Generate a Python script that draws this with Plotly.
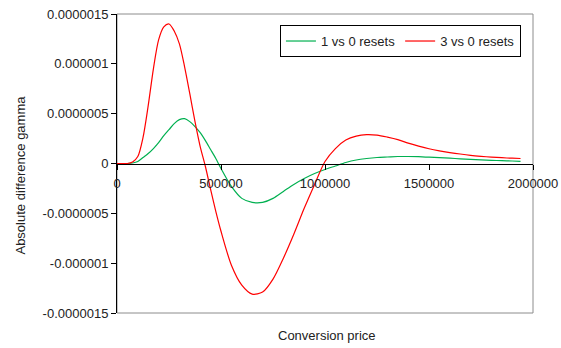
import plotly.graph_objects as go

# Conversion price (x) values
conversion_price = [0, 25000, 50000, 75000, 100000, 125000, 150000, 175000, 200000, 225000,
                    250000, 275000, 300000, 325000, 350000, 375000, 400000, 425000, 450000, 475000,
                    500000, 550000, 600000, 650000, 700000, 750000, 800000, 850000, 900000, 950000,
                    1000000, 1050000, 1100000, 1150000, 1200000, 1250000, 1300000, 1350000, 1400000,
                    1450000, 1500000, 1550000, 1600000, 1650000, 1700000, 1750000, 1800000, 1850000,
                    1900000, 1940000]

# Absolute difference gamma, in units of 1e-6
one_vs_zero = [0, 0, 0, 0.005, 0.02, 0.06, 0.10, 0.15, 0.21, 0.28,
               0.34, 0.40, 0.44, 0.45, 0.42, 0.37, 0.31, 0.23, 0.14, 0.05,
               -0.05, -0.23, -0.35, -0.39, -0.39, -0.35, -0.28, -0.21, -0.15, -0.10,
               -0.06, -0.025, 0.01, 0.035, 0.05, 0.06, 0.065, 0.07, 0.07,
               0.068, 0.063, 0.058, 0.053, 0.047, 0.042, 0.037, 0.032, 0.028,
               0.025, 0.022]

three_vs_zero = [0, 0, 0, 0.015, 0.07, 0.26, 0.58, 0.95, 1.24, 1.37,
                 1.40, 1.33, 1.20, 0.97, 0.70, 0.42, 0.17, -0.03, -0.26, -0.48,
                 -0.68, -1.02, -1.22, -1.31, -1.29, -1.16, -0.95, -0.71, -0.45, -0.21,
                 0.02, 0.15, 0.235, 0.275, 0.29, 0.285, 0.265, 0.24, 0.205,
                 0.175, 0.148, 0.127, 0.11, 0.095, 0.082, 0.072, 0.064, 0.058,
                 0.053, 0.05]

y_tickvals = [1.5e-6, 1e-6, 0.5e-6, 0, -0.5e-6, -1e-6, -1.5e-6]
y_ticktext = ["0.0000015", "0.000001", "0.0000005", "0", "-0.0000005", "-0.000001", "-0.0000015"]
x_tickvals = [0, 500000, 1000000, 1500000, 2000000]
x_ticktext = ["0", "500000", "1000000", "1500000", "2000000"]

FONT = "Liberation Sans, Arial, sans-serif"
TXT = "#222222"

fig = go.Figure()
fig.add_trace(go.Scatter(x=conversion_price, y=[v * 1e-6 for v in one_vs_zero],
                         mode="lines", name="1 vs 0 resets",
                         line=dict(color="#00B050", width=1.2, shape="spline", smoothing=0.8)))
fig.add_trace(go.Scatter(x=conversion_price, y=[v * 1e-6 for v in three_vs_zero],
                         mode="lines", name="3 vs 0 resets",
                         line=dict(color="#FF0000", width=1.2, shape="spline", smoothing=0.8)))

fig.update_layout(
    width=561, height=348,
    margin=dict(l=117, r=28, t=14, b=35, autoexpand=False),
    paper_bgcolor="white", plot_bgcolor="white",
    font=dict(family=FONT, size=13, color=TXT),
    showlegend=True,
    legend=dict(orientation="h", x=0.971, y=0.963, xanchor="right", yanchor="top",
                bordercolor="black", borderwidth=1, bgcolor="white",
                font=dict(size=13, family=FONT, color=TXT),
                itemwidth=30, tracegroupgap=0),
    xaxis=dict(range=[0, 2000000], tickvals=x_tickvals, ticktext=x_ticktext,
               showgrid=False, zeroline=False, showline=True, linecolor="black", linewidth=1,
               ticks="outside", ticklen=5, tickcolor="black", anchor="free", position=0.5,
               ticklabelstandoff=3, automargin=False),
    yaxis=dict(range=[-1.5e-6, 1.5e-6], tickvals=y_tickvals, ticktext=y_ticktext,
               showgrid=False, zeroline=False, showline=True, linecolor="black", linewidth=1,
               ticks="outside", ticklen=5, tickcolor="black", automargin=False),
    shapes=[dict(type="rect", xref="paper", yref="paper", x0=0, x1=1, y0=0, y1=1,
                 line=dict(color="#8c8c8c", width=1), layer="below")],
    annotations=[
        dict(text="Conversion price", xref="paper", yref="paper",
             x=0.504, y=-0.074, xanchor="center", yanchor="middle", showarrow=False,
             font=dict(size=13, family=FONT, color=TXT)),
        dict(text="Absolute difference gamma", xref="paper", yref="paper",
             x=-0.233, y=0.46, xanchor="center", yanchor="middle", showarrow=False,
             textangle=-90, font=dict(size=13, family=FONT, color=TXT)),
    ],
)

fig.write_html("out.html")
